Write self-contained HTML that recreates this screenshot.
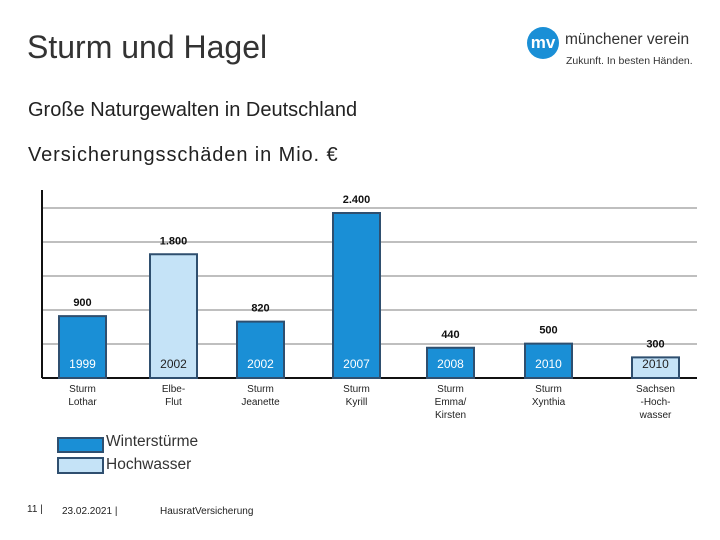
<!DOCTYPE html>
<html><head><meta charset="utf-8"><style>
body{margin:0;width:720px;height:540px;background:#fff;font-family:"Liberation Sans",sans-serif;position:relative;overflow:hidden}
.t{position:absolute;white-space:nowrap;color:#222}
</style></head><body>
<div class="t" style="left:27px;top:29px;font-size:32px;color:#333">Sturm und Hagel</div>
<div class="t" style="left:28px;top:99px;font-size:20px">Große Naturgewalten in Deutschland</div>
<div class="t" style="left:28px;top:144px;font-size:20px;letter-spacing:0.9px">Versicherungsschäden in Mio. €</div>
<div style="position:absolute;left:527px;top:27px;width:32px;height:32px;border-radius:50%;background:#1a8fd6;color:#fff;font-size:17px;font-weight:bold;text-align:center;line-height:31px">mv</div>
<div class="t" style="left:565px;top:31px;font-size:15.5px;color:#333">münchener verein</div>
<div class="t" style="left:566px;top:55px;font-size:10.5px;color:#333">Zukunft. In besten Händen.</div>
<svg id="chart" width="720" height="540" style="position:absolute;left:0;top:0"></svg>
<div style="position:absolute;left:57px;top:437px;width:43px;height:12px;background:#1a8fd6;border:2px solid #2f4f6f"></div>
<div class="t" style="left:106px;top:433px;font-size:15.5px;color:#333">Winterstürme</div>
<div style="position:absolute;left:57px;top:457px;width:43px;height:13px;background:#c5e3f7;border:2px solid #2f4f6f"></div>
<div class="t" style="left:106px;top:456px;font-size:15.5px;color:#333">Hochwasser</div>
<div class="t" style="left:27px;top:504px;font-size:10px">11 |</div>
<div class="t" style="left:62px;top:506px;font-size:10px">23.02.2021 |</div>
<div class="t" style="left:160px;top:506px;font-size:10px">HausratVersicherung</div>
<script>
const categories=["Sturm|Lothar","Elbe-|Flut","Sturm|Jeanette","Sturm|Kyrill","Sturm|Emma/|Kirsten","Sturm|Xynthia","Sachsen|-Hoch-|wasser"];
const years=["1999","2002","2002","2007","2008","2010","2010"];
const values=[900,1800,820,2400,440,500,300];
const valueLabels=["900","1.800","820","2.400","440","500","300"];
const types=["storm","flood","storm","storm","storm","storm","flood"];
const svg=document.getElementById('chart');
const NS='http://www.w3.org/2000/svg';
const base=378, maxV=2400, hpx=165;
const y=v=>base-v/maxV*hpx;
const xs=[59,150,237,333,427,525,632];
const x=i=>xs[i];
const bw=47;
function mk(t,a){const e=document.createElementNS(NS,t);for(const k in a)e.setAttribute(k,a[k]);svg.appendChild(e);return e;}
for(let k=1;k<=5;k++){const g=mk('line',{x1:42,x2:697,y1:base-34*k,y2:base-34*k,stroke:'#aaa','stroke-width':1.5});

}
const ax=mk('line',{x1:42,x2:42,y1:190,y2:base,stroke:'#111','stroke-width':2});


const bl=mk('line',{x1:42,x2:697,y1:base,y2:base,stroke:'#111','stroke-width':2});


values.forEach((v,i)=>{
 const fl=types[i]==='flood';
 const r=mk('rect',{x:x(i),y:y(v),width:bw,height:base-y(v),fill:fl?'#c5e3f7':'#1a8fd6',stroke:'#2f4f6f','stroke-width':2});
 
 
 const vl=mk('text',{x:x(i)+bw/2,y:y(v)-10,'text-anchor':'middle','font-size':11,'font-weight':'bold',fill:'#111'});
 vl.textContent=valueLabels[i];
 
 
 const yl=mk('text',{x:x(i)+bw/2,y:base-10,'text-anchor':'middle','font-size':12,fill:fl?'#222':'#fff'});
 yl.textContent=years[i];
 
 
 categories[i].split('|').forEach((ln,j)=>{
  const c=mk('text',{x:x(i)+bw/2,y:392+j*13,'text-anchor':'middle','font-size':10,fill:'#222'});
  c.textContent=ln;
  
  
 });
});
</script>
</body></html>
